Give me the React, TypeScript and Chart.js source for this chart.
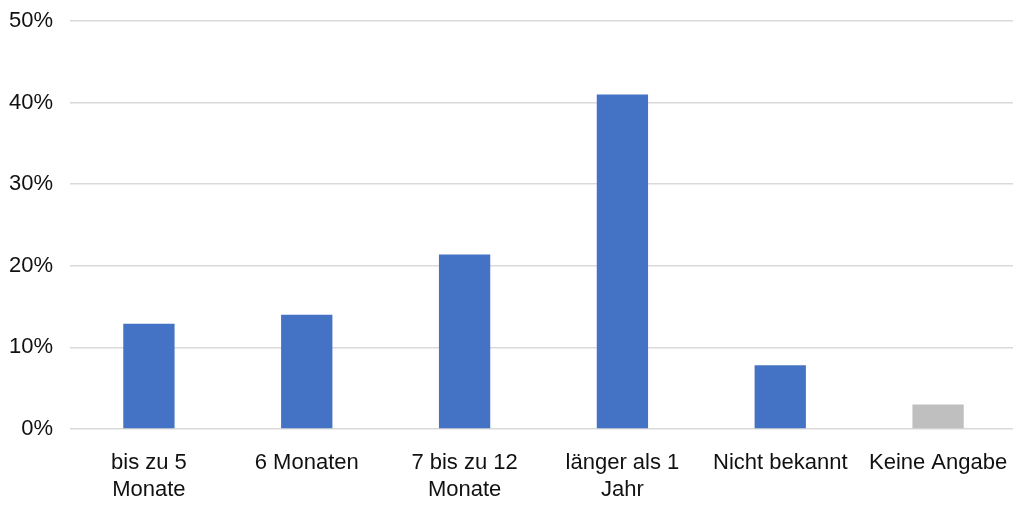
import React, { useEffect, useRef } from "react";
import { Chart, registerables } from "chart.js";

Chart.register(...registerables);

// Dauer-Kategorien (mehrzeilige Beschriftungen als Arrays)
const categories: (string | string[])[] = [
  ["bis zu 5", "Monate"],
  "6 Monaten",
  ["7 bis zu 12", "Monate"],
  ["länger als 1", "Jahr"],
  "Nicht bekannt",
  "Keine Angabe",
];

// Anteile in Prozent
const shares: number[] = [12.9, 14.0, 21.4, 41.0, 7.8, 3.0];

// Balkenfarben: blau für Angaben, grau für "Keine Angabe"
const barColors: string[] = ["#4472C4", "#4472C4", "#4472C4", "#4472C4", "#4472C4", "#BFBFBF"];

const yMax = 50;
const yStep = 10;

export default function App() {
  const canvasRef = useRef<HTMLCanvasElement | null>(null);

  useEffect(() => {
    if (!canvasRef.current) return;
    const font = { family: "'Liberation Sans', Arial, sans-serif", size: 22 };
    const chart = new Chart(canvasRef.current, {
      type: "bar",
      data: {
        labels: categories,
        datasets: [
          {
            data: shares,
            backgroundColor: barColors,
            borderWidth: 0,
            barPercentage: 0.325,
            categoryPercentage: 1,
          },
        ],
      },
      options: {
        animation: false,
        responsive: false,
        maintainAspectRatio: false,
        layout: { padding: { top: 21, right: 0, left: 0, bottom: 0 } },
        plugins: { legend: { display: false }, tooltip: { enabled: false } },
        scales: {
          x: {
            grid: { display: false, drawTicks: false },
            border: { display: false },
            ticks: {
              color: "#111",
              font: { ...font, lineHeight: 1.25 },
              padding: 20,
              maxRotation: 0,
              autoSkip: false,
            },
            afterFit: (scale: any) => {
              scale.height = 79;
              scale.paddingLeft = 0;
              scale.paddingRight = 0;
            },
          },
          y: {
            min: 0,
            max: yMax,
            grid: { color: "#d9d9d9", lineWidth: 1.5, drawTicks: false },
            border: { display: false },
            ticks: {
              stepSize: yStep,
              color: "#111",
              font,
              padding: 17,
              callback: (v: any) => `${v}%`,
            },
            afterFit: (scale: any) => {
              scale.width = 70;
              scale.paddingTop = 0;
              scale.paddingBottom = 0;
            },
          },
        },
      },
    });
    return () => chart.destroy();
  }, []);

  // the canvas is a little wider than the frame, so the plot area runs past the right edge
  return (
    <div
      style={{
        position: "fixed",
        left: 0,
        top: 0,
        width: 1013,
        height: 508,
        overflow: "hidden",
        background: "#fff",
      }}
    >
      <canvas ref={canvasRef} width={1017} height={508} style={{ display: "block" }} />
    </div>
  );
}
